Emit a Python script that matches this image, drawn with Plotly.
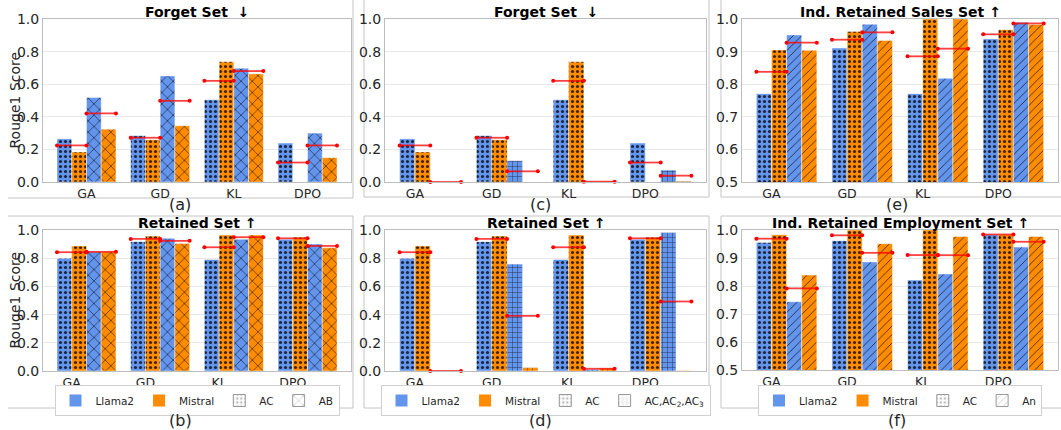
import numpy as np
import plotly.graph_objects as go

W, H = 1061, 430

methods = ["GA", "GD", "KL", "DPO"]
models = ["Llama2", "Mistral"]

# Forget set (panels a, c)
forget_ac_llama = [0.265, 0.284, 0.504, 0.239]
forget_ac_mistral = [0.184, 0.259, 0.737, 0.0]
forget_ab_llama = [0.518, 0.651, 0.698, 0.300]
forget_ab_mistral = [0.324, 0.345, 0.663, 0.149]
forget_ac123_llama = [0.0, 0.131, 0.0, 0.073]
forget_ac123_mistral = [0.0, 0.0, 0.004, 0.005]

# Retained set (panels b, d)
retain_ac_llama = [0.799, 0.917, 0.791, 0.934]
retain_ac_mistral = [0.886, 0.957, 0.964, 0.948]
retain_ab_llama = [0.845, 0.941, 0.934, 0.900]
retain_ab_mistral = [0.845, 0.905, 0.964, 0.874]
retain_ac123_llama = [0.0, 0.758, 0.012, 0.983]
retain_ac123_mistral = [0.0, 0.024, 0.020, 0.003]

# Ind. retained sales set (panel e)
sales_ac_llama = [0.771, 0.911, 0.771, 0.939]
sales_ac_mistral = [0.905, 0.962, 1.0, 0.967]
sales_an_llama = [0.951, 0.984, 0.818, 0.990]
sales_an_mistral = [0.904, 0.934, 1.0, 0.983]

# Ind. retained employment set (panel f)
emp_ac_llama = [0.955, 0.962, 0.821, 0.984]
emp_ac_mistral = [0.983, 1.0, 1.0, 0.984]
emp_an_llama = [0.744, 0.886, 0.843, 0.939]
emp_an_mistral = [0.839, 0.951, 0.977, 0.977]

BLUE = "#6495ED"
ORANGE = "#FF8C00"
FONT = "DejaVu Sans"
TXT = "#262626"


def px_x(p):
    return p / W


def px_y(p):
    return 1 - p / H


panels = [
    dict(ax=1, rect=(43, 19, 351, 182), title="Forget Set&nbsp; ↓", label="(a)",
         vals=[forget_ac_llama, forget_ac_mistral, forget_ab_llama, forget_ab_mistral],
         pats=[".", ".", "x", "x"], yr=[0, 1], dt=0.2, tickoff=0.0, ytitle=True, legend=None),
    dict(ax=2, rect=(385, 19, 706, 182), title="Forget Set&nbsp; ↓", label="(c)",
         vals=[forget_ac_llama, forget_ac_mistral, forget_ac123_llama, forget_ac123_mistral],
         pats=[".", ".", "+", "+"], yr=[0, 1], dt=0.2, tickoff=-0.2, ytitle=False, legend=None),
    dict(ax=3, rect=(742, 19, 1058, 182), title="Ind. Retained Sales Set ↑", label="(e)",
         vals=[sales_ac_llama, sales_ac_mistral, sales_an_llama, sales_an_mistral],
         pats=[".", ".", "/", "/"], yr=[0.5, 1], dt=0.1, tickoff=-0.2, ytitle=False, legend=None),
    dict(ax=4, rect=(43, 230, 351, 371), title="Retained Set ↑", label="(b)",
         vals=[retain_ac_llama, retain_ac_mistral, retain_ab_llama, retain_ab_mistral],
         pats=[".", ".", "x", "x"], yr=[0, 1], dt=0.2, tickoff=-0.2, ytitle=True,
         legend=("legend", "AB", "x")),
    dict(ax=5, rect=(385, 230, 706, 371), title="Retained Set ↑", label="(d)",
         vals=[retain_ac_llama, retain_ac_mistral, retain_ac123_llama, retain_ac123_mistral],
         pats=[".", ".", "+", "+"], yr=[0, 1], dt=0.2, tickoff=-0.2, ytitle=False,
         legend=("legend2", "AC,AC<sub>2</sub>,AC<sub>3</sub>", "+")),
    dict(ax=6, rect=(742, 230, 1058, 370), title="Ind. Retained Employment Set ↑", label="(f)",
         vals=[emp_ac_llama, emp_ac_mistral, emp_an_llama, emp_an_mistral],
         pats=[".", ".", "/", "/"], yr=[0.5, 1], dt=0.1, tickoff=-0.2, ytitle=False,
         legend=("legend3", "An", "/")),
]

pat_size = {".": 5, "x": 8, "+": 5, "/": 6}
pat_sol = {".": 0.3, "x": 0.16, "+": 0.16, "/": 0.14}

fig = go.Figure()
layout = dict(
    width=W, height=H, margin=dict(l=0, r=0, t=0, b=0, autoexpand=False),
    paper_bgcolor="white", plot_bgcolor="white", barmode="overlay",
    font=dict(family=FONT, size=13, color=TXT),
    shapes=[], annotations=[],
)

g = np.arange(len(methods))
offsets = [-0.3, -0.1, 0.1, 0.3]
colors = [BLUE, ORANGE, BLUE, ORANGE]

for p in panels:
    n = p["ax"]
    xa = "x" if n == 1 else f"x{n}"
    ya = "y" if n == 1 else f"y{n}"
    x0, y0, x1, y1 = p["rect"]
    for k in range(4):
        fig.add_trace(go.Bar(
            x=g + offsets[k], y=p["vals"][k], width=0.2,
            xaxis=xa, yaxis=ya, showlegend=False,
            marker=dict(color=colors[k],
                        line=dict(color="rgba(255,255,255,0.45)", width=1),
                        pattern=dict(shape=p["pats"][k], fgcolor="black", fgopacity=0.75,
                                     size=pat_size[p["pats"][k]], solidity=pat_sol[p["pats"][k]])),
            hoverinfo="skip",
        ))
    # red average lines per pattern pair
    for pair in range(2):
        a = np.array(p["vals"][2 * pair])
        b = np.array(p["vals"][2 * pair + 1])
        m = (a + b) / 2
        xs, ys = [], []
        for i in range(len(methods)):
            left = g[i] - 0.4 + 0.4 * pair
            xs += [left, left + 0.4, None]
            ys += [m[i], m[i], None]
        fig.add_trace(go.Scatter(
            x=xs, y=ys, mode="lines+markers", xaxis=xa, yaxis=ya, showlegend=False,
            line=dict(color="rgba(255,0,0,0.75)", width=1.8),
            marker=dict(color="red", size=4), hoverinfo="skip", cliponaxis=False,
        ))
    key_x = "xaxis" if n == 1 else f"xaxis{n}"
    key_y = "yaxis" if n == 1 else f"yaxis{n}"
    layout[key_x] = dict(
        domain=[px_x(x0), px_x(x1)], anchor=ya, range=[-0.59, 3.59],
        tickvals=list(g + p["tickoff"]), ticktext=methods, ticks="",
        showgrid=False, zeroline=False, showline=True, mirror=True,
        linecolor="#bdbdbd", linewidth=1, tickfont=dict(size=12.5, color=TXT),
        fixedrange=True, automargin=False,
    )
    ticks = np.round(np.arange(p["yr"][0], p["yr"][1] + 1e-9, p["dt"]), 2)
    layout[key_y] = dict(
        domain=[px_y(y1), px_y(y0)], anchor=xa, range=p["yr"],
        tickvals=list(ticks), tickformat=".1f", ticks="",
        showgrid=True, gridcolor="#e8e8e8", gridwidth=1, zeroline=False,
        showline=True, mirror=True, linecolor="#bdbdbd", linewidth=1,
        tickfont=dict(size=14, color=TXT), fixedrange=True, automargin=False,
    )
    cx = (x0 + x1) / 2
    layout["annotations"].append(dict(
        text=f"<b>{p['title']}</b>", x=px_x(cx), y=px_y(y0 - 7), xref="paper", yref="paper",
        xanchor="center", yanchor="middle", showarrow=False,
        font=dict(size=14, color="black", family=FONT),
    ))
    if p["ytitle"]:
        layout["annotations"].append(dict(
            text="Rouge1 Score", x=px_x(14), y=px_y((y0 + y1) / 2), xref="paper", yref="paper",
            xanchor="center", yanchor="middle", showarrow=False, textangle=-90,
            font=dict(size=14, color=TXT, family=FONT),
        ))
    if p["legend"]:
        lname, lab2, pat2 = p["legend"]
        items = [(models[0], BLUE, "", BLUE), (models[1], ORANGE, "", ORANGE),
                 ("AC", "white", ".", "#9a9a9a"), (lab2, "white", pat2, "#9a9a9a")]
        for name, col, pat, lc in items:
            mk = dict(color=col, line=dict(color=lc, width=1 if pat else 0))
            if pat:
                mk["pattern"] = dict(shape=pat, fgcolor="#777777", size=pat_size[pat],
                                     solidity=pat_sol[pat])
            fig.add_trace(go.Bar(x=[None], y=[None], name=name, xaxis=xa, yaxis=ya,
                                 marker=mk, legend=lname, showlegend=True))
        layout[lname] = dict(
            orientation="h", x=px_x(cx), xanchor="center", y=px_y(385), yanchor="top",
            bordercolor="#d0d0d0", borderwidth=1, bgcolor="white",
            font=dict(size=10.5, color=TXT, family=FONT), itemwidth=30,
            tracegroupgap=0,
        )
    # subplot label
    frame_cx = {1: 180, 2: 540, 3: 897}[((n - 1) % 3) + 1]
    label_y = 205 if n <= 3 else 420
    layout["annotations"].append(dict(
        text=p["label"], x=px_x(frame_cx), y=px_y(label_y), xref="paper", yref="paper",
        xanchor="center", yanchor="middle", showarrow=False,
        font=dict(size=16, color=TXT, family=FONT),
    ))

# panel frames (lines in pixel coordinates)
FR = "#c4c4c4"
frame_lines = [
    # top row
    (8, 198, 353, 198), (353, -2, 353, 198),
    (364, -2, 364, 197), (709, -2, 709, 197), (364, 197, 709, 197),
    (721, -2, 721, 197), (721, 197, 1062, 197),
    # bottom row
    (8, 216, 353, 216), (353, 216, 353, 408), (8, 408, 353, 408),
    (364, 216, 709, 216), (364, 216, 364, 408), (709, 216, 709, 408), (364, 408, 709, 408),
    (721, 216, 1062, 216), (721, 216, 721, 408), (721, 408, 1062, 408),
]
for (ax0, ay0, ax1, ay1) in frame_lines:
    layout["shapes"].append(dict(
        type="line", xref="paper", yref="paper",
        x0=px_x(ax0), y0=px_y(ay0), x1=px_x(ax1), y1=px_y(ay1),
        line=dict(color=FR, width=1), layer="below",
    ))

fig.update_layout(**layout)
fig.write_html("out.html", config={"displayModeBar": False},
               post_script="document.body.style.margin='0';document.body.style.overflow='hidden';")
